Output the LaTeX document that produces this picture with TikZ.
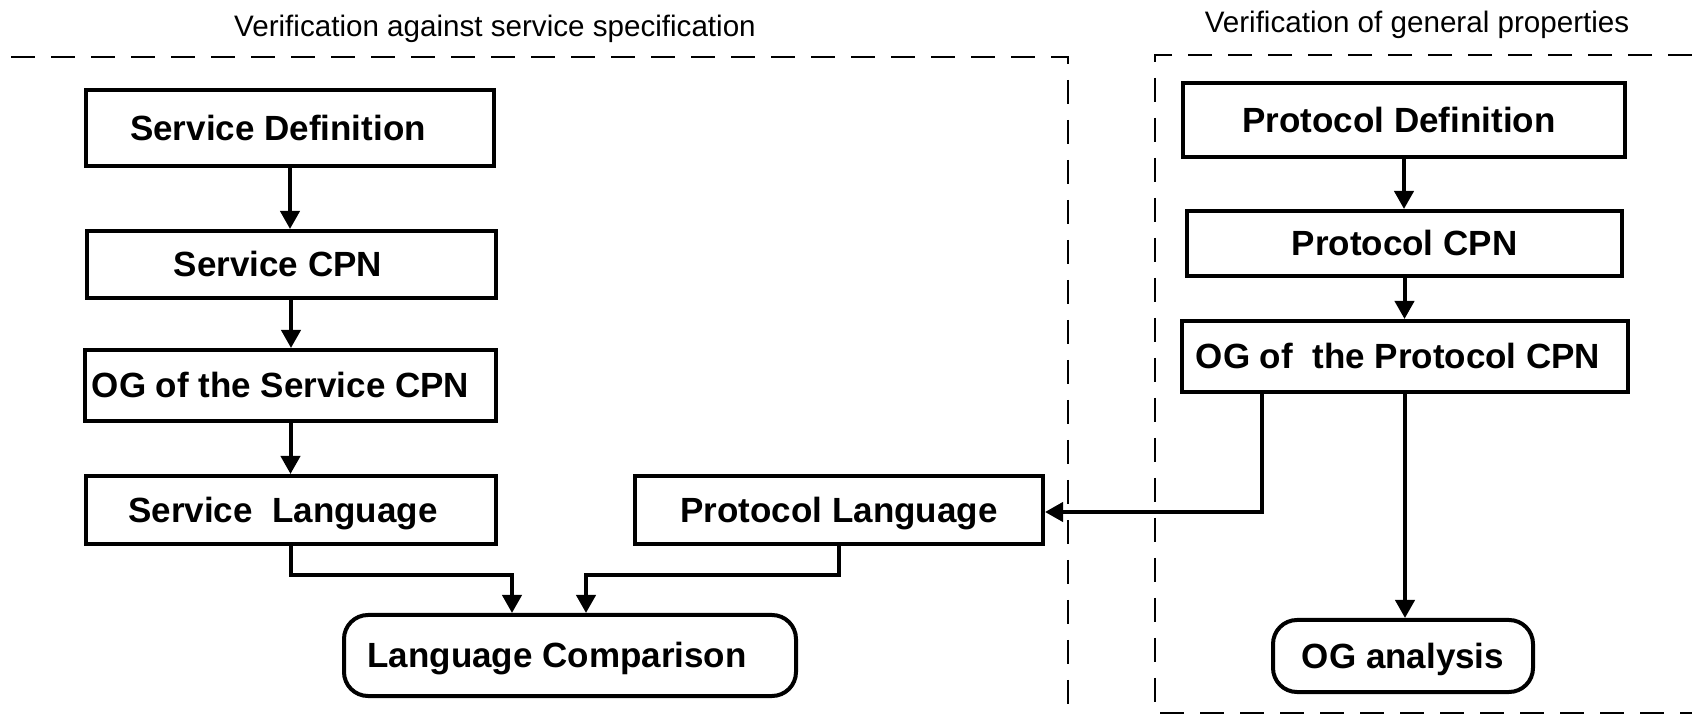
\documentclass[tikz,border=0pt]{standalone}
\usepackage{fontspec}
\setmainfont{Liberation Sans}
\usetikzlibrary{arrows.meta,calc}
\begin{document}
\begin{tikzpicture}[x=0.5pt,y=-0.5pt,
  box/.style={draw,line width=2pt,inner sep=0pt,text height=12.5pt,text depth=0pt,
    font=\fontsize{17.5}{20}\selectfont\bfseries},
  term/.style={box,rounded corners=12pt},
  arr/.style={line width=2pt,-{Triangle[length=9pt,width=9.5pt]}},
  region/.style={line width=0.75pt,dash pattern=on 12pt off 8pt},
  title/.style={font=\fontsize{14.8}{17}\selectfont,anchor=base,inner sep=0pt}]
\useasboundingbox (0,0) rectangle (1692,715);

% titles
\node[title] (t1) at (495,37) {Verification against service specification};
\node[title] (t2) at (1417,33) {Verification of general properties};

% dashed regions
\draw[region] (11,57) -- (1068,57) -- (1068,707);
\draw[region] (1692,55) -- (1155,55) -- (1155,713) -- (1692,713);

% left column
\node[box,minimum width=204pt,minimum height=38pt] (sdef) at (290,128) {Service Definition\hspace*{12pt}};
\node[box,minimum width=204.5pt,minimum height=33.5pt] (scpn) at (291,264.5) {Service CPN\hspace*{13pt}};
\node[box,minimum width=205.5pt,minimum height=35.5pt] (sog) at (290.5,385.5) {OG of the Service CPN\hspace*{10pt}};
\node[box,minimum width=205pt,minimum height=34pt] (slang) at (291,510) {Service\ \ Language\hspace*{8pt}};
\node[box,minimum width=204pt,minimum height=34pt] (plang) at (839,510) {Protocol Language};
\node[term,minimum width=226pt,minimum height=40.5pt] (lcomp) at (570,655.5) {Language Comparison\hspace*{13pt}};

% right column
\node[box,minimum width=221pt,minimum height=37pt] (pdef) at (1404,120) {Protocol Definition\hspace*{5pt}};
\node[box,minimum width=217.5pt,minimum height=32.5pt] (pcpn) at (1404.5,243.5) {Protocol CPN};
\node[box,minimum width=223pt,minimum height=35.5pt] (pog) at (1405,356.5) {OG of\ \ the Protocol CPN\hspace*{7pt}};
\node[term,minimum width=130pt,minimum height=36pt] (oga) at (1403,656) {OG analysis};

% connectors
\draw[arr] (sdef.south) -- (sdef.south |- scpn.north);
\draw[arr] (scpn.south) -- (scpn.south |- sog.north);
\draw[arr] (sog.south) -- (sog.south |- slang.north);
\draw[arr] (slang.south) |- ($(lcomp.north)+(-58,-38)$) -- ($(lcomp.north)+(-58,0)$);
\draw[arr] (plang.south) |- ($(lcomp.north)+(16,-38)$) -- ($(lcomp.north)+(16,0)$);

\draw[arr] (pdef.south) -- (pdef.south |- pcpn.north);
\draw[arr] (pcpn.south) -- (pcpn.south |- pog.north);
\draw[arr] ($(pog.south)+(-143,0)$) |- ($(plang.east)+(0,2)$);
\draw[arr] (pog.south) -- (pog.south |- oga.north);
\end{tikzpicture}
\end{document}
